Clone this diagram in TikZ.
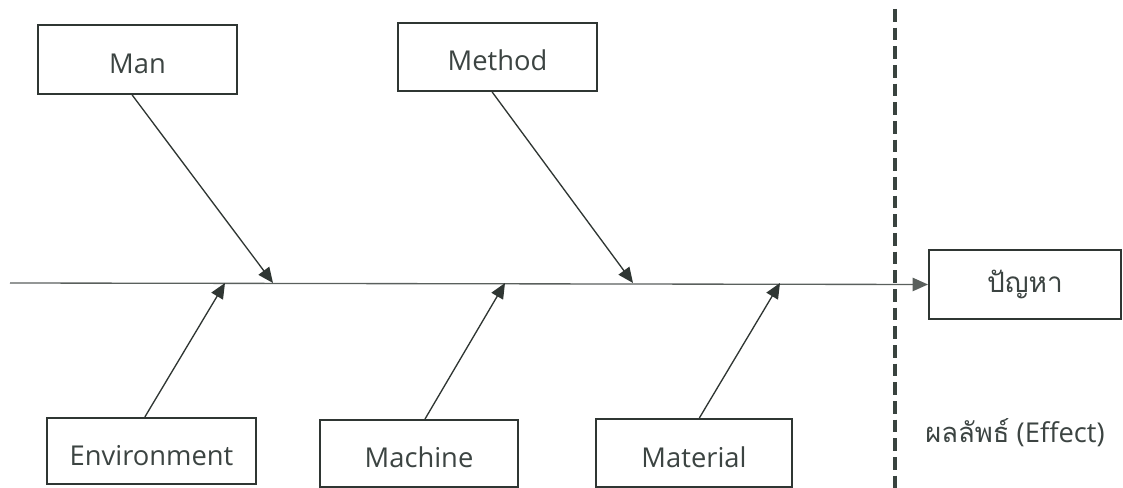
\documentclass[tikz,border=0pt]{standalone}
\usepackage{fontspec}
\setmainfont{Open Sans}
\newfontfamily\thaifont[Script=Thai]{Loma}
\usetikzlibrary{arrows.meta}
\definecolor{ink}{HTML}{2F3633}
\definecolor{txt}{HTML}{3C4442}
\definecolor{spine}{HTML}{5A605D}
\definecolor{dash}{HTML}{39433F}
\begin{document}
\begin{tikzpicture}[x=0.75pt,y=-0.75pt,
  box/.style={draw=ink, line width=1.5pt, fill=white, text=txt,
    font=\fontsize{20.5}{24}\selectfont, inner sep=0pt,
    text height=21pt, text depth=0pt},
  bone/.style={draw=ink, line width=1pt,
    -{Triangle[length=11.5pt,width=10pt]}},
  divider/.style={draw=dash, line width=2.8pt, dash pattern=on 9.5pt off 4.5pt}]
\useasboundingbox (0,0) rectangle (1123,488);

% cause boxes
\node[box, minimum width=149.25pt, minimum height=51.75pt] (man) at (137.5,59.5) {Man};
\node[box, minimum width=149.25pt, minimum height=51pt] (method) at (497.5,57) {Method};
\node[box, minimum width=156.75pt, minimum height=49.5pt] (env) at (151.5,451) {Environment};
\node[box, minimum width=148.5pt, minimum height=50.25pt] (machine) at (419,453.5) {Machine};
\node[box, minimum width=147pt, minimum height=51pt] (material) at (694,453) {Material};

% effect box
\node[box, text height=, text depth=, minimum width=144pt, minimum height=51.75pt,
  font=\fontsize{21}{24}\selectfont] (problem) at (1025,284.5) {\thaifont ปัญหา};
\node[text=txt, font=\fontsize{20.5}{24}\selectfont, inner sep=0pt] (effect) at (1015,433)
  {{\thaifont ผลลัพธ์} (Effect)};

% points where the bones meet the spine
\coordinate (start) at (10,283);
\coordinate (tman) at (273,283);
\coordinate (tmethod) at (633,283);
\coordinate (tenv) at (225,283);
\coordinate (tmach) at (505,283);
\coordinate (tmat) at (780,283);
\coordinate (dtop) at (895,9);
\coordinate (dbot) at (895,488);

% spine
\draw[bone, draw=spine] (start) -- (problem.west);

% divider between causes and effect
\draw[divider] (dtop) -- (dbot);

% bones
\draw[bone] ([xshift=-4pt]man.south) -- (tman);
\draw[bone] ([xshift=-4pt]method.south) -- (tmethod);
\draw[bone] ([xshift=-5pt]env.north) -- (tenv);
\draw[bone] ([xshift=4.5pt]machine.north) -- (tmach);
\draw[bone] ([xshift=4pt]material.north) -- (tmat);
\end{tikzpicture}
\end{document}
